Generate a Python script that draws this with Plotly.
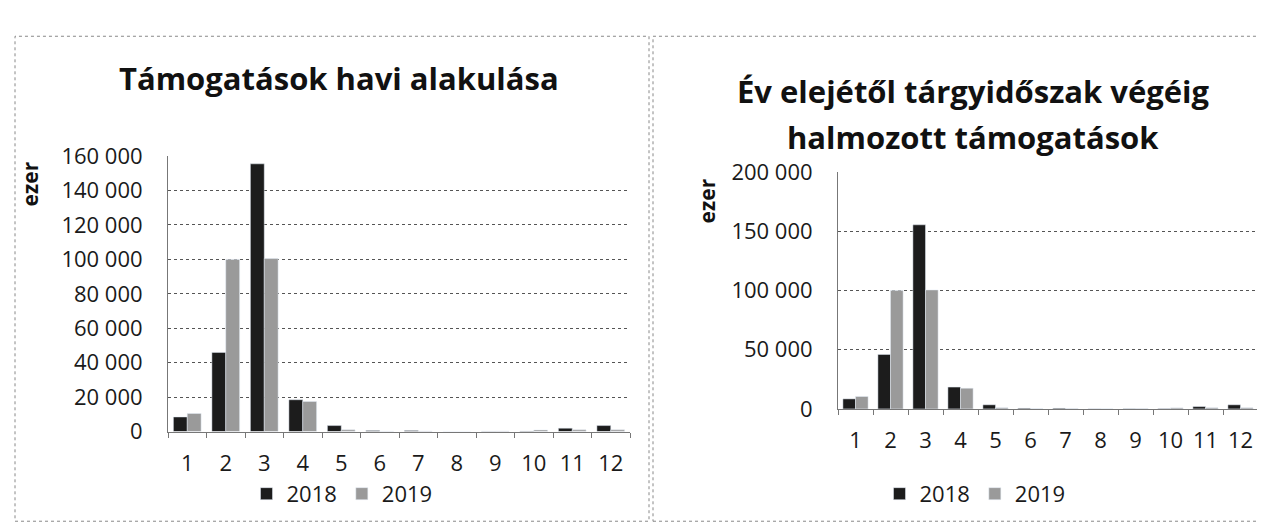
import plotly.graph_objects as go

months = [str(i) for i in range(1, 13)]
left_2018 = [8500, 46000, 155500, 18500, 3500, 600, 600, 100, 200, 300, 2000, 3500]
left_2019 = [10500, 100000, 100500, 17500, 1000, 200, 300, 100, 300, 900, 1000, 1000]
right_2018 = [8500, 46000, 155500, 18500, 3500, 600, 600, 100, 200, 300, 2000, 3500]
right_2019 = [10500, 100000, 100500, 17500, 1000, 200, 300, 100, 300, 900, 1000, 1000]
series_names = ["2018", "2019"]
title_left = "Támogatások havi alakulása"
title_right_lines = ["Év elejétől tárgyidőszak végéig", "halmozott támogatások"]
y_title = "ezer"

W, H = 1265, 531
C_DARK = "#1c1c1c"
C_GREY = "#9a9a9a"
FONT = "Open Sans"
TICK = 22

fig = go.Figure()
fig.add_trace(go.Bar(x=months, y=left_2018, name=series_names[0], marker_color=C_DARK,
                     xaxis="x", yaxis="y", legend="legend"))
fig.add_trace(go.Bar(x=months, y=left_2019, name=series_names[1], marker_color=C_GREY,
                     xaxis="x", yaxis="y", legend="legend"))
fig.add_trace(go.Bar(x=months, y=right_2018, name=series_names[0], marker_color=C_DARK,
                     xaxis="x2", yaxis="y2", legend="legend2"))
fig.add_trace(go.Bar(x=months, y=right_2019, name=series_names[1], marker_color=C_GREY,
                     xaxis="x2", yaxis="y2", legend="legend2"))

def px(x):
    return x / W

def py(y):
    return 1 - y / H

axis_common = dict(showline=True, linecolor="#777", linewidth=1,
                   tickfont=dict(family=FONT, size=TICK, color="#1a1a1a"))
xcommon = dict(axis_common, type="category", ticks="outside", tickson="boundaries",
               ticklen=5, tickcolor="#777", showgrid=False, ticklabelstandoff=12)
ycommon = dict(axis_common, showgrid=True, gridcolor="#555", griddash="dot", gridwidth=1,
               tickformat=",d", ticks="", zeroline=False, ticklabelstandoff=20)

legend_common = dict(orientation="h", xanchor="center", yanchor="middle",
                     font=dict(family=FONT, size=TICK, color="#1a1a1a"), itemwidth=30,
                     traceorder="normal")

title_font = dict(family=FONT, size=31, color="#111")

fig.update_layout(
    width=W, height=H,
    margin=dict(l=0, r=0, t=0, b=0),
    paper_bgcolor="white", plot_bgcolor="white",
    separators=", ",
    barmode="group", bargap=0.28, bargroupgap=0,
    font=dict(family=FONT, color="#1a1a1a"),
    xaxis=dict(xcommon, domain=[px(160), px(622)], anchor="y"),
    yaxis=dict(ycommon, domain=[py(432), py(140)], range=[0, 160000], dtick=20000, anchor="x"),
    xaxis2=dict(xcommon, domain=[px(830), px(1250)], anchor="y2"),
    yaxis2=dict(ycommon, domain=[py(408), py(157)], range=[0, 200000], dtick=50000, anchor="x2"),
    legend=dict(legend_common, x=px(334), y=py(498)),
    legend2=dict(legend_common, x=px(967), y=py(498)),
    annotations=[
        dict(text="<b>" + title_left + "</b>", x=px(331), y=py(57), xref="paper", yref="paper",
             showarrow=False, font=title_font, xanchor="center", yanchor="middle"),
        dict(text="<b>" + title_right_lines[0] + "</b>", x=px(965), y=py(71), xref="paper",
             yref="paper", showarrow=False, font=title_font, xanchor="center", yanchor="middle"),
        dict(text="<b>" + title_right_lines[1] + "</b>", x=px(965), y=py(120), xref="paper",
             yref="paper", showarrow=False, font=title_font, xanchor="center", yanchor="middle"),
        dict(text="<b>" + y_title + "</b>", x=px(22), y=py(170), xref="paper", yref="paper",
             showarrow=False, textangle=-90, font=dict(family=FONT, size=21, color="#111"),
             xanchor="center", yanchor="middle"),
        dict(text="<b>" + y_title + "</b>", x=px(699), y=py(188), xref="paper", yref="paper",
             showarrow=False, textangle=-90, font=dict(family=FONT, size=21, color="#111"),
             xanchor="center", yanchor="middle"),
    ],
    shapes=[
        dict(type="rect", xref="paper", yref="paper", x0=px(7), x1=px(641), y0=py(527), y1=py(13),
             line=dict(color="#888", width=1, dash="dot")),
        dict(type="rect", xref="paper", yref="paper", x0=px(645), x1=px(1262), y0=py(527), y1=py(13),
             line=dict(color="#888", width=1, dash="dot")),
    ],
)

fig.write_html("out.html")
